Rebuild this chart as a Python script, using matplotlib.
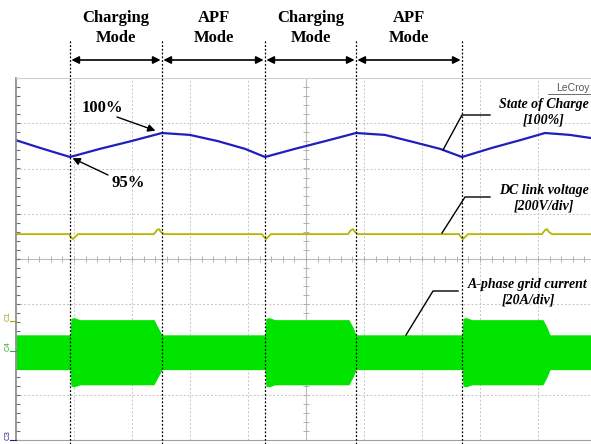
import matplotlib
matplotlib.use('Agg')
import matplotlib.pyplot as plt
import numpy as np

# time axis in scope divisions (10 div across the screen)
mode_edges = [0.931, 2.517, 4.293, 5.862, 7.690]
mode_names = ['Charging\nMode', 'APF\nMode', 'Charging\nMode', 'APF\nMode']

# state of charge [%]
soc_t = [0, 0.414, 0.931, 1.448, 1.983, 2.517, 3.0, 3.483, 3.948, 4.293,
         4.810, 5.328, 5.862, 6.362, 6.793, 7.310, 7.690, 8.207, 8.690,
         9.121, 9.552, 10]
soc_pct = [98.5, 96.9, 95.0, 96.7, 98.3, 100, 99.6, 98.3, 96.7, 95.0,
           96.7, 98.3, 100, 99.6, 98.3, 96.7, 95.0, 96.9, 98.5,
           100, 99.6, 98.8]

# DC link voltage deviation [V]
dc_t = [0, 0.914, 0.948, 0.983, 1.017, 1.069, 2.379, 2.431, 2.466, 2.5, 2.552,
        4.241, 4.276, 4.310, 4.345, 4.397, 5.724, 5.776, 5.810, 5.845, 5.897,
        7.638, 7.672, 7.707, 7.741, 7.793, 9.069, 9.121, 9.155, 9.190, 9.241, 10]
dc_v = [0, 0, -13, -22, -13, 0, 0, 18, 22, 9, 0,
        0, -13, -22, -13, 0, 0, 18, 22, 9, 0,
        0, -13, -22, -13, 0, 0, 18, 22, 9, 0, 0]

# grid current envelope (peak) [A]
cur_t = [0, 0.931, 0.948, 1.0, 1.103, 2.379, 2.448, 2.517, 4.293, 4.310,
         4.362, 4.466, 5.741, 5.810, 5.862, 7.690, 7.707, 7.759, 7.862,
         9.086, 9.155, 9.207, 10]
cur_pk = [7.7, 7.7, 15.0, 15.3, 14.4, 14.4, 11.0, 7.7, 7.7, 15.0,
          15.3, 14.4, 14.4, 11.0, 7.7, 7.7, 15.0, 15.3, 14.4,
          14.4, 11.0, 7.7, 7.7]

W, H = 591, 444
fig = plt.figure(figsize=(W / 100, H / 100), dpi=100)
ax = fig.add_axes([16 / W, 4 / H, 580 / W, 362 / H])
ax.set_xlim(0, 10)
ax.set_ylim(-4, 4)
ax.set_xticks([])
ax.set_yticks([])
ax.spines['right'].set_visible(False)
ax.spines['top'].set_color('#d0d0d0')
ax.spines['bottom'].set_color('#a0a0a0')
ax.spines['left'].set_color('#909090')
ax.spines['left'].set_linewidth(1.3)

# scope grid (under the traces)
for i in range(1, 10):
    if i != 5:
        ax.axvline(i, color='#c4c4c4', ls=(0, (2, 2)), lw=0.7, zorder=0.5)
for j in range(-3, 4):
    if j != 0:
        ax.axhline(j, color='#c4c4c4', ls=(0, (2, 2)), lw=0.7, zorder=0.5)
ax.axvline(5, color='#bcbcbc', lw=0.8, zorder=0.5)
ax.axhline(0, color='#bcbcbc', lw=0.8, zorder=0.5)
xt = np.arange(0, 10.01, 0.2)
yt = np.arange(-4, 4.01, 0.2)
ax.vlines(xt, -0.06, 0.06, color='#b0b0b0', lw=0.7, zorder=0.5)
ax.hlines(yt, 4.94, 5.06, color='#b0b0b0', lw=0.7, zorder=0.5)
ax.hlines(yt, 0, 0.07, color='#707070', lw=0.8, zorder=0.5)

# traces
soc_div = 2.254 + (np.array(soc_pct) - 95) * 0.1061
dc_div = 0.55 + np.array(dc_v) / 200.0
cur_c = -2.06
cur_div = np.array(cur_pk) / 20.0
ax.fill_between(cur_t, cur_c - cur_div, cur_c + cur_div, color='#00e400',
                lw=0, zorder=1)
ax.plot(dc_t, dc_div, color='#b8b400', lw=1.3, zorder=2)
ax.plot(soc_t, soc_div, color='#1f1fc0', lw=1.6, zorder=2)

# mode boundaries, arrows and labels
for t in mode_edges:
    ax.axvline(t, ymin=-4 / 362, ymax=400 / 362, clip_on=False,
               color='black', ls=(0, (1.5, 1.5)), lw=0.9, zorder=3)
for k, name in enumerate(mode_names):
    t0, t1 = mode_edges[k], mode_edges[k + 1]
    ax.annotate('', xy=(t1, H - 60), xytext=(t0, H - 60),
                xycoords=('data', 'figure pixels'),
                textcoords=('data', 'figure pixels'), annotation_clip=False,
                arrowprops=dict(arrowstyle='<|-|>', color='black', lw=1.2,
                                shrinkA=1, shrinkB=1, mutation_scale=11))
    ax.annotate(name, xy=((t0 + t1) / 2, H - 28),
                xycoords=('data', 'figure pixels'), annotation_clip=False,
                ha='center', va='center', family='Liberation Serif',
                weight='bold', fontsize=12, linespacing=1.3)

# 100% / 95% markers
i_max = soc_pct.index(100)
i_min = soc_pct.index(95.0)
ax.annotate('', xy=(soc_t[i_max], soc_div[i_max]), xytext=(117, H - 117),
            textcoords='figure pixels', annotation_clip=False,
            arrowprops=dict(arrowstyle='-|>', color='black', lw=1.0,
                            shrinkA=0, shrinkB=5, mutation_scale=11))
ax.annotate('', xy=(soc_t[i_min], soc_div[i_min]), xytext=(108, H - 175),
            textcoords='figure pixels', annotation_clip=False,
            arrowprops=dict(arrowstyle='-|>', color='black', lw=1.0,
                            shrinkA=0, shrinkB=2, mutation_scale=11))

ov = fig.add_axes([0, 0, 1, 1], facecolor='none')
ov.set_xlim(0, W)
ov.set_ylim(H, 0)
ov.axis('off')

serif = dict(family='Liberation Serif', weight='bold')
ov.text(102, 108, '100%', ha='center', va='center', fontsize=12, **serif)
ov.text(128, 183, '95%', ha='center', va='center', fontsize=12, **serif)

labels = [('State of Charge\n[100%]', 544, 112, [(490, 115), (462, 115), (443, 150)]),
          ('DC link voltage\n[200V/div]', 544, 198, [(490, 197), (465, 197), (442, 233)]),
          ('A-phase grid current\n[20A/div]', 528, 292, [(458, 291), (433, 291), (406, 335)])]
for txt, x, y, pts in labels:
    ov.text(x, y, txt, ha='center', va='center', fontsize=10, style='italic',
            linespacing=1.2, **serif)
    px, py = zip(*pts)
    ov.plot(px, py, color='black', lw=1.0)

# scope decorations
ov.text(590, 88, 'LeCroy', ha='right', va='center', fontsize=7.5,
        family='Liberation Sans', color='#555555')
ov.plot([548, 590], [94, 94], color='#555555', lw=0.6)
for name, y, c in [('C1', 316, '#a89c20'), ('C4', 346, '#30a830'), ('C3', 435, '#202090')]:
    ov.text(8, y, name, rotation=90, ha='center', va='center', fontsize=5.5,
            family='Liberation Sans', color=c)
    ov.plot([10, 16], [y + 5, y + 5], color=c, lw=0.8)

fig.savefig('out.png', dpi=100)
plt.close(fig)
